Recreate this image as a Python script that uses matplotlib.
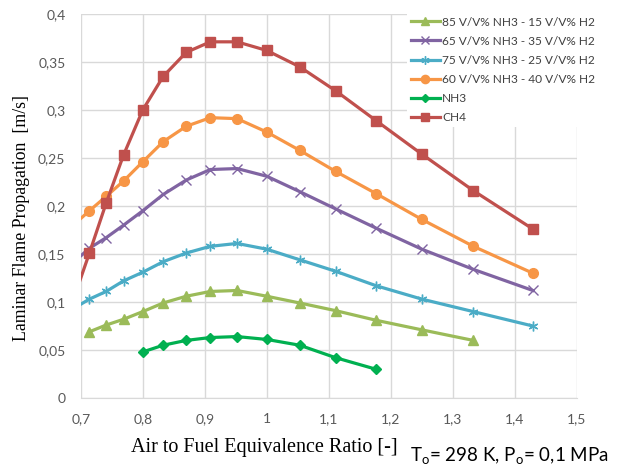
import numpy as np
import matplotlib
matplotlib.use('Agg')
import matplotlib.pyplot as plt
from matplotlib.ticker import FuncFormatter, MultipleLocator

# air to fuel equivalence ratio (first point lies left of the axis and is clipped)
lam = [0.667, 0.714, 0.741, 0.769, 0.800, 0.833, 0.870, 0.909, 0.952,
       1.000, 1.053, 1.111, 1.176, 1.250, 1.333, 1.429]

ch4 = [0.063, 0.151, 0.203, 0.253, 0.300, 0.335, 0.360, 0.371, 0.371,
       0.362, 0.345, 0.320, 0.289, 0.254, 0.216, 0.176]
nh3_60 = [0.168, 0.195, 0.210, 0.226, 0.246, 0.267, 0.283, 0.292, 0.291,
          0.277, 0.258, 0.236, 0.213, 0.186, 0.158, 0.130]
nh3_65 = [0.129, 0.156, 0.167, 0.180, 0.195, 0.212, 0.227, 0.238, 0.239,
          0.231, 0.215, 0.197, 0.177, 0.155, 0.134, 0.112]
nh3_75 = [0.085, 0.103, 0.111, 0.122, 0.131, 0.142, 0.151, 0.158, 0.161,
          0.155, 0.144, 0.132, 0.117, 0.103, 0.090, 0.075]
lam_85 = lam[1:15]
nh3_85 = [0.069, 0.076, 0.082, 0.090, 0.099, 0.106, 0.111, 0.112,
          0.106, 0.099, 0.091, 0.081, 0.071, 0.060]
lam_nh3 = lam[4:13]
nh3 = [0.048, 0.055, 0.060, 0.063, 0.064, 0.061, 0.055, 0.042, 0.030]

fig = plt.figure(figsize=(6.19, 4.74), dpi=100)
ax = fig.add_axes([0.1304, 0.1603, 0.8016, 0.8102])

lw = 2.3
ax.plot(lam_85, nh3_85, color='#9BBB59', lw=lw, marker='^', ms=6.5,
        label='85 V/V% NH3 - 15 V/V% H2')
ax.plot(lam, nh3_65, color='#8064A2', lw=lw, marker='x', ms=7, mew=1.0,
        label='65 V/V% NH3 - 35 V/V% H2')
ax.plot(lam, nh3_75, color='#4BACC6', lw=lw, marker=(6, 2, 0), ms=7, mew=1.0,
        label='75 V/V% NH3 - 25 V/V% H2')
ax.plot(lam, nh3_60, color='#F79646', lw=lw, marker='o', ms=7,
        label='60 V/V% NH3 - 40 V/V% H2')
ax.plot(lam_nh3, nh3, color='#00B050', lw=lw, marker='D', ms=5,
        label='NH3')
ax.plot(lam, ch4, color='#C0504D', lw=lw, marker='s', ms=7.5,
        label='CH4')

ax.set_xlim(0.7, 1.5)
ax.set_ylim(0, 0.4)
ax.xaxis.set_major_locator(MultipleLocator(0.1))
ax.yaxis.set_major_locator(MultipleLocator(0.05))

def comma(v, pos):
    s = ('%.2f' % v).rstrip('0').rstrip('.')
    return s.replace('.', ',')

ax.xaxis.set_major_formatter(FuncFormatter(comma))
ax.yaxis.set_major_formatter(FuncFormatter(comma))
ax.grid(True, color='#D9D9D9', lw=1.0)
ax.set_axisbelow(True)
for s in ['top', 'right', 'left']:
    ax.spines[s].set_visible(False)
ax.spines['bottom'].set_color('#D9D9D9')
ax.tick_params(length=0, labelsize=10, labelcolor='#595959')
ax.tick_params(axis='x', pad=11)
ax.tick_params(axis='y', pad=11)
for lab in ax.get_xticklabels() + ax.get_yticklabels():
    lab.set_fontfamily('Lato')

fig.text(0.035, 0.54, 'Laminar Flame Propagation  [m/s]', rotation=90,
         ha='center', va='center', family='Liberation Serif', fontsize=12.8)
fig.text(0.427, 0.055, 'Air to Fuel Equivalence Ratio [-]', ha='center',
         va='center', family='Liberation Serif', fontsize=14.5)
fig.text(0.663, 0.038, r'T$_\mathregular{o}$= 298 K, P$_\mathregular{o}$= 0,1 MPa',
         ha='left', va='center', family='Lato', fontsize=13.5)

leg = ax.legend(loc='upper left', bbox_to_anchor=(401 / 619, 1 - 7 / 474),
                bbox_transform=fig.transFigure, frameon=True, fancybox=False,
                borderpad=0.3, handlelength=2.5, handletextpad=0.15,
                labelspacing=0.68, prop={'family': 'Lato', 'size': 8.6},
                markerscale=0.85)
leg.get_frame().set_facecolor('white')
leg.get_frame().set_edgecolor('none')
leg.get_frame().set_alpha(1)
for t in leg.get_texts():
    t.set_color('#404040')

fig.savefig('out.png', dpi=100)
